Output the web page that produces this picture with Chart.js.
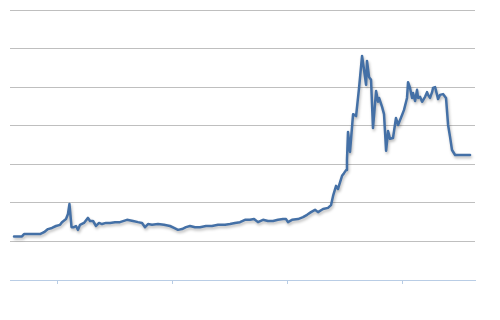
<!DOCTYPE html>
<html>
<head>
<meta charset="utf-8">
<script src="https://cdn.jsdelivr.net/npm/chart.js@4"></script>
<style>
  html, body { margin: 0; padding: 0; background: #fff; }
</style>
</head>
<body>
<canvas id="myChart" width="500" height="320"></canvas>
<script>
// time in years (decimal), value in axis units
const years = [
  2010.622, 2010.691, 2010.709, 2010.848, 2010.883, 2010.917, 2010.952, 2010.987,
  2011.022, 2011.039, 2011.074, 2011.091, 2011.104, 2011.122, 2011.143, 2011.161,
  2011.178, 2011.196, 2011.230, 2011.265, 2011.283, 2011.309, 2011.335, 2011.361,
  2011.387, 2011.422, 2011.457, 2011.500, 2011.543, 2011.604, 2011.657, 2011.700,
  2011.735, 2011.761, 2011.787, 2011.822, 2011.874, 2011.926, 2011.978, 2012.013,
  2012.048, 2012.083, 2012.117, 2012.152, 2012.196, 2012.239, 2012.291, 2012.343,
  2012.396, 2012.457, 2012.500, 2012.543, 2012.587, 2012.630, 2012.674, 2012.709,
  2012.743, 2012.787, 2012.830, 2012.874, 2012.917, 2012.961, 2012.987, 2013.004,
  2013.039, 2013.091, 2013.135, 2013.170, 2013.204, 2013.239, 2013.265, 2013.309,
  2013.352, 2013.378, 2013.396, 2013.422, 2013.439, 2013.457, 2013.474, 2013.491,
  2013.509, 2013.517, 2013.526, 2013.543, 2013.570, 2013.596, 2013.622, 2013.648,
  2013.665, 2013.683, 2013.691, 2013.709, 2013.726, 2013.743, 2013.770, 2013.787,
  2013.796, 2013.822, 2013.839, 2013.857, 2013.874, 2013.891, 2013.917, 2013.943,
  2013.961, 2013.996, 2014.013, 2014.039, 2014.048, 2014.065, 2014.083, 2014.091,
  2014.109, 2014.126, 2014.135, 2014.152, 2014.170, 2014.196, 2014.213, 2014.222,
  2014.239, 2014.257, 2014.265, 2014.283, 2014.300, 2014.309, 2014.326, 2014.352,
  2014.378, 2014.396, 2014.413, 2014.430, 2014.457, 2014.587
];
const values = [
  1.13, 1.13, 1.19, 1.19, 1.24, 1.32, 1.35, 1.40,
  1.43, 1.50, 1.58, 1.71, 1.97, 1.37, 1.37, 1.40,
  1.30, 1.43, 1.48, 1.61, 1.53, 1.53, 1.40, 1.48,
  1.45, 1.48, 1.48, 1.50, 1.50, 1.56, 1.53, 1.50,
  1.48, 1.37, 1.45, 1.43, 1.45, 1.43, 1.40, 1.35,
  1.30, 1.32, 1.37, 1.40, 1.37, 1.37, 1.40, 1.40,
  1.43, 1.43, 1.45, 1.48, 1.50, 1.56, 1.56, 1.58,
  1.50, 1.56, 1.53, 1.53, 1.56, 1.58, 1.58, 1.50,
  1.56, 1.58, 1.63, 1.69, 1.76, 1.82, 1.76, 1.84,
  1.87, 1.94, 2.18, 2.44, 2.36, 2.54, 2.70, 2.77,
  2.85, 3.11, 3.84, 3.32, 4.30, 4.25, 4.98, 5.81,
  5.45, 5.06, 5.68, 5.26, 5.19, 3.94, 4.90, 4.62,
  4.72, 4.49, 4.30, 3.35, 3.86, 3.66, 3.68, 4.20,
  4.02, 4.28, 4.41, 4.72, 5.13, 4.98, 4.72, 4.85,
  4.64, 4.93, 4.72, 4.75, 4.62, 4.75, 4.87, 4.80,
  4.72, 4.87, 4.98, 5.00, 4.80, 4.69, 4.80, 4.82,
  4.72, 4.02, 3.71, 3.37, 3.24, 3.24
];
const yearTicks = [2011, 2012, 2013, 2014];
const yTicks = [0, 1, 2, 3, 4, 5, 6, 7];

const lineShadow = {
  id: 'lineShadow',
  beforeDatasetDraw(chart) {
    const c = chart.ctx;
    c.save();
    c.shadowColor = 'rgba(0,0,0,0.28)';
    c.shadowBlur = 3;
    c.shadowOffsetX = 1;
    c.shadowOffsetY = 2;
  },
  afterDatasetDraw(chart) {
    chart.ctx.restore();
  }
};

const ctx = document.getElementById('myChart').getContext('2d');
const myChart = new Chart(ctx, {
  type: 'line',
  data: {
    datasets: [{
      data: years.map((x, i) => ({ x: x, y: values[i] })),
      borderColor: '#4470a6',
      borderWidth: 2.5,
      borderJoinStyle: 'round',
      borderCapStyle: 'round',
      pointRadius: 0,
      tension: 0,
      fill: false
    }]
  },
  plugins: [lineShadow],
  options: {
    responsive: false,
    animation: false,
    layout: { padding: { left: 10, right: 25, top: 10, bottom: 36 } },
    scales: {
      x: {
        type: 'linear',
        min: 2010.587,
        max: 2014.630,
        afterBuildTicks: (scale) => { scale.ticks = yearTicks.map(v => ({ value: v })); },
        ticks: { display: false },
        grid: { drawOnChartArea: false, drawTicks: true, tickLength: 4, color: '#b9cde5' },
        border: { color: '#b9cde5', width: 1 }
      },
      y: {
        min: 0,
        max: 7,
        afterBuildTicks: (scale) => { scale.ticks = yTicks.map(v => ({ value: v })); },
        ticks: { display: false },
        grid: {
          drawTicks: false,
          color: (c) => c.tick && c.tick.value === 0 ? 'rgba(0,0,0,0)' : '#bfbfbf'
        },
        border: { display: false }
      }
    },
    plugins: {
      legend: { display: false },
      tooltip: { enabled: false }
    }
  }
});
</script>
</body>
</html>
